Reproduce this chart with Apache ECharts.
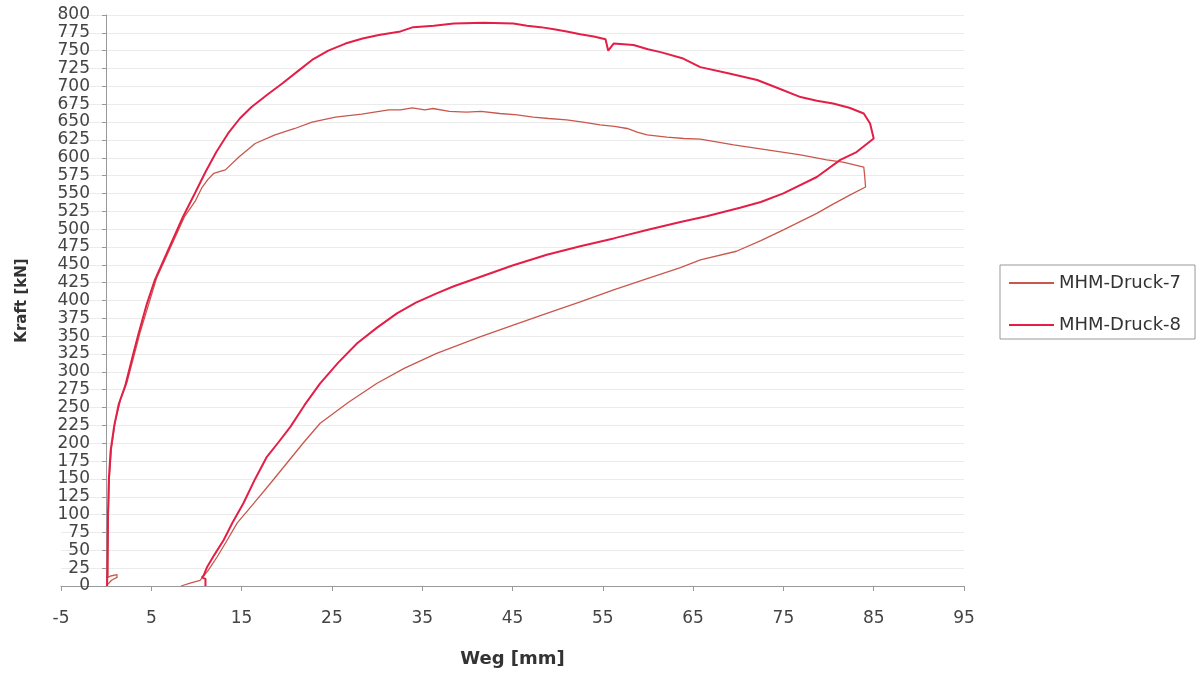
<!DOCTYPE html>
<html>
  <head>
    <meta charset="utf-8" />
    <title>MHM-Druck</title>
    <script src="https://cdn.jsdelivr.net/npm/echarts@6/dist/echarts.min.js"></script>
    <style>
      html, body { margin: 0; padding: 0; background: #fff; }
    </style>
  </head>
  <body>
    <div id="main" style="width: 1198px;height:677px;"></div>
    <script type="text/javascript">
      // Namen der Versuche
      var names = ['MHM-Druck-7', 'MHM-Druck-8'];

      // MHM-Druck-7: Weg [mm] / Kraft [kN]
      var weg7 = [0, 0.6, 1.2, 1.2, 0.5, 0.2, 0.2, 0.25, 0.35, 0.6, 1.0, 1.6, 2.3, 3.8, 5.6, 6.9, 8.7, 9.9, 10.6, 11.3,
        11.9, 13.2, 14.7, 16.5, 18.7, 20.9, 22.8, 25.4, 28.3, 31.3, 32.6, 33.9, 35.3, 36.2, 38, 39.9, 41.5, 43.6, 45.5, 47.3,
        49, 51.0, 52.8, 54.7, 56.3, 57.7, 58.8, 59.9, 62.1, 64, 65.8, 69.5, 73.2, 76.9, 79.8, 81.6, 83.9,
        84.0, 84.1, 82.4, 80.5, 78.7, 75.0, 72.5, 69.8, 65.8, 63.6, 60, 56.2, 52.5, 48.8, 45, 41.4, 36.6, 33, 30.0,
        26.8, 23.7, 21.8, 20, 18.2, 16.3, 14.5, 13.3, 12.3, 11.3, 10.4, 9.3, 8.3];
      var kraft7 = [0, 8, 12, 16, 14, 12, 40, 100, 150, 195, 230, 262, 285, 357, 432, 468, 518, 540, 558, 570,
        578, 583, 601, 620, 632, 641, 650, 657, 661, 667, 667, 670, 667, 669, 665, 664, 665, 662, 660, 657,
        655, 653, 650, 646, 644, 641, 636, 632, 629, 627, 626, 618, 611, 604, 597, 594, 587,
        575, 559, 548, 535, 522, 499, 484, 469, 457, 446, 431, 415, 398, 382, 365, 349, 326, 305, 284,
        257, 228, 200, 172, 144, 115, 88, 62, 41, 22, 8, 4, 0];

      // MHM-Druck-8: Weg [mm] / Kraft [kN]
      var weg8 = [0.1, 0.15, 0.2, 0.3, 0.5, 0.9, 1.4, 2.1, 3.0, 3.6, 4.5, 5.4, 6.7, 8.5, 9.9, 11.0, 12.2, 13.5, 14.8, 16.1,
        17.8, 19.5, 21.2, 22.8, 24.6, 26.5, 28.4, 30.2, 32.6, 34.0, 36.3, 38.5, 41.8, 45.1, 46.6, 48.1, 49.6, 51.0, 52.5, 54.0,
        55.3, 55.6, 56.2, 58.4, 60, 61.4, 63.9, 65.8, 69, 72.1, 74.5, 76.9, 78.7, 80.5, 82.3, 83.9, 84.6, 85.0,
        83.1, 81.3, 78.7, 75.0, 72.5, 70.2, 66.5, 63.6, 60, 56.2, 52.5, 48.8, 45, 41.4, 38.5, 36.6, 34.3, 32.2, 30,
        27.8, 25.7, 23.7, 22, 20.4, 19, 17.8, 16.5, 15.2, 14, 13.0, 12, 11.2, 10.8, 10.6, 11.0, 11.0];
      var kraft8 = [0, 40, 100, 150, 190, 225, 255, 280, 325, 354, 395, 429, 466, 517, 552, 580, 608, 634, 655, 671,
        688, 704, 721, 737, 750, 760, 767, 772, 777, 783, 785, 788, 789, 788, 785, 783, 780, 777, 773, 770,
        766, 750, 760, 758, 752, 748, 739, 727, 718, 709, 697, 685, 680, 676, 670, 662, 648, 627,
        608, 597, 573, 550, 538, 530, 518, 510, 499, 487, 476, 464, 449, 433, 420, 410, 397, 382, 362,
        340, 313, 284, 254, 223, 200, 181, 150, 116, 89, 64, 44, 27, 15, 12, 10, 0];

      function pairs(xs, ys) {
        var out = [];
        for (var i = 0; i < xs.length; i++) {
          out.push([xs[i], ys[i]]);
        }
        return out;
      }

      var myChart = echarts.init(document.getElementById('main'));
      var labelFont = 'DejaVu Sans';

      var option = {
        animation: false,
        backgroundColor: '#fff',
        grid: {
          left: 61,
          right: 234,
          top: 15,
          bottom: 91,
          containLabel: false,
          outerBoundsMode: 'none'
        },
        legend: {
          orient: 'vertical',
          left: 1000,
          top: 265,
          padding: [8, 14, 4, 8],
          itemGap: 22,
          itemWidth: 45,
          itemHeight: 14,
          borderColor: '#999',
          borderWidth: 1,
          data: names,
          itemStyle: { opacity: 0 },
          textStyle: {
            fontFamily: labelFont,
            fontSize: 18,
            color: '#333',
            lineHeight: 20
          }
        },
        xAxis: {
          type: 'value',
          min: -5,
          max: 95,
          interval: 10,
          name: 'Weg [mm]',
          nameLocation: 'middle',
          nameGap: 64,
          nameTextStyle: {
            fontFamily: labelFont,
            fontSize: 18,
            fontWeight: 'bold',
            color: '#333'
          },
          axisLine: { onZero: false, lineStyle: { color: '#999', width: 1 } },
          axisTick: { show: true, length: 5, lineStyle: { color: '#999' } },
          axisLabel: {
            margin: 24,
            fontFamily: labelFont,
            fontSize: 17,
            color: '#444'
          },
          splitLine: { show: false }
        },
        yAxis: {
          type: 'value',
          min: 0,
          max: 800,
          interval: 25,
          // Achse sitzt bei Weg = 0 (5 mm rechts vom Rand)
          offset: -45,
          name: 'Kraft [kN]',
          nameLocation: 'middle',
          nameGap: 76,
          nameTextStyle: {
            fontFamily: labelFont,
            fontSize: 15,
            fontWeight: 'bold',
            color: '#333'
          },
          axisLine: { show: true, onZero: false, lineStyle: { color: '#999', width: 1 } },
          axisTick: { show: true, length: 4, lineStyle: { color: '#999' } },
          axisLabel: {
            margin: 16,
            fontFamily: labelFont,
            fontSize: 17,
            color: '#444'
          },
          splitLine: { show: true, lineStyle: { color: '#ebebeb', width: 1 } }
        },
        series: [
          {
            name: names[0],
            type: 'line',
            data: pairs(weg7, kraft7),
            symbol: 'none',
            showSymbol: false,
            color: '#c9584c',
            lineStyle: { color: '#c9584c', width: 1.3 }
          },
          {
            name: names[1],
            type: 'line',
            data: pairs(weg8, kraft8),
            symbol: 'none',
            showSymbol: false,
            color: '#e31f48',
            lineStyle: { color: '#e31f48', width: 2 }
          }
        ]
      };

      myChart.setOption(option);
    </script>
  </body>
</html>
